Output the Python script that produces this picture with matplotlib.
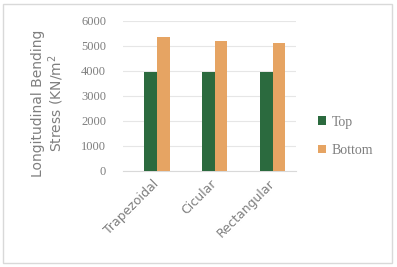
import matplotlib.pyplot as plt
import numpy as np
from matplotlib.patches import Rectangle

categories = ["Trapezoidal", "Cicular", "Rectangular"]
top = [3970, 3970, 3970]
bottom = [5370, 5190, 5110]

GREEN = "#2b6a3e"
ORANGE = "#e6a463"
GRAY = "#7f7f7f"

fig = plt.figure(figsize=(3.97, 2.67), dpi=100)
fig.patches.append(Rectangle((0.008, 0.015), 0.98, 0.97, transform=fig.transFigure,
                             fill=False, edgecolor="#d9d9d9", linewidth=1))
ax = fig.add_axes([0.309, 0.36, 0.436, 0.562])

x = np.arange(len(categories))
w = 0.22
ax.bar(x - w / 2, top, w, color=GREEN, label="Top", zorder=3)
ax.bar(x + w / 2, bottom, w, color=ORANGE, label="Bottom", zorder=3)

ax.set_xlim(-0.59, 2.40)
ax.set_ylim(0, 6000)
ax.set_yticks(range(0, 6001, 1000))
ax.yaxis.grid(True, color="#e6e6e6", linewidth=0.8, zorder=0)
for s in ["top", "right", "left"]:
    ax.spines[s].set_visible(False)
ax.spines["bottom"].set_color("#d9d9d9")
ax.tick_params(length=0, colors=GRAY)
ax.tick_params(axis="y", pad=12, labelfontfamily="Liberation Serif", labelsize=9)
ax.tick_params(axis="x", pad=8)
ax.set_xticks(x)
ax.set_xticklabels(categories, rotation=45, ha="right", va="center",
                   rotation_mode="anchor", fontsize=9, color=GRAY)

ax.set_ylabel("Longitudinal Bending\nStress (KN/m$^2$", fontsize=10, color=GRAY,
              labelpad=11, linespacing=1.05)
ax.yaxis.label.set_y(0.45)

ax.legend(loc="center left", bbox_to_anchor=(0.8, 0.49), bbox_transform=fig.transFigure,
          frameon=False, prop={"family": "Liberation Serif", "size": 10},
          labelcolor=GRAY, handlelength=0.6, handleheight=0.6, borderpad=0,
          borderaxespad=0, handletextpad=0.4, labelspacing=1.1)

fig.savefig("out.png", dpi=100)
